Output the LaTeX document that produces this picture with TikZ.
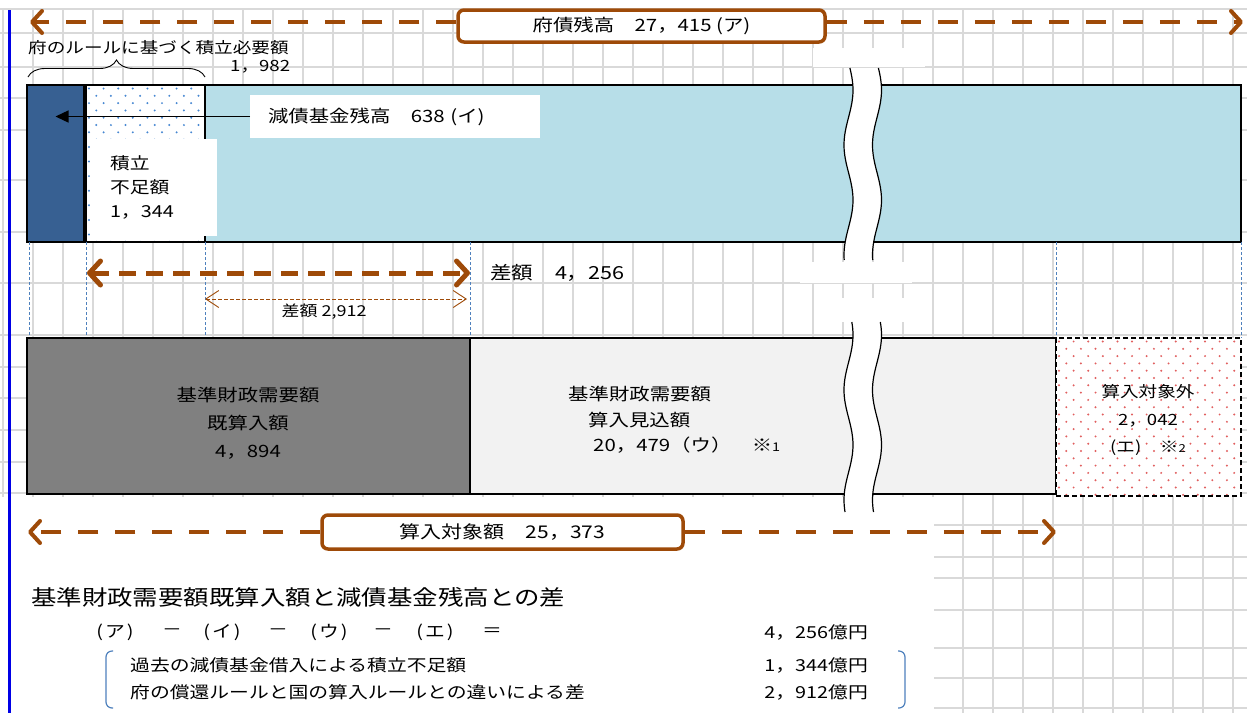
\documentclass[tikz,border=0pt]{standalone}
\usepackage{fontspec}
\setmainfont{Noto Sans CJK JP}[FakeStretch=1.2]
\usetikzlibrary{arrows.meta,decorations.pathreplacing}
\definecolor{brn}{RGB}{158,74,8}
\definecolor{gridgray}{RGB}{217,217,217}
\definecolor{funddark}{RGB}{55,96,146}
\definecolor{balancelight}{RGB}{183,222,232}
\definecolor{knowngray}{RGB}{128,128,128}
\definecolor{expectgray}{RGB}{242,242,242}
\definecolor{dotblue}{RGB}{70,135,210}
\definecolor{dotred}{RGB}{225,95,95}
\definecolor{guideblue}{RGB}{79,129,189}
\definecolor{edgeblue}{RGB}{0,0,230}
\newcommand\setfs[2]{\fontsize{#1}{#2}\selectfont}
\tikzset{
  gridline/.style={gridgray, line width=2pt},
  barbox/.style={draw=black, line width=1.2pt, inner sep=0pt, outer sep=0pt, anchor=north west},
  whitebox/.style={fill=white, inner sep=0pt, outer sep=0pt, anchor=north west},
  tagbox/.style={draw=brn, line width=3.5pt, rounded corners=6pt, fill=white, inner sep=0pt},
  longarrow/.style={brn, line width=4pt, dash pattern=on 20pt off 17pt,
    -{Straight Barb[round,length=10pt,width=22pt]}},
  gaparrow/.style={brn, line width=5pt, dash pattern=on 17pt off 10pt,
    {Straight Barb[round,length=11pt,width=24pt]}-{Straight Barb[round,length=11pt,width=24pt]}},
  thinarrow/.style={brn, line width=0.9pt, dash pattern=on 4pt off 2pt,
    {Straight Barb[length=13pt,width=17pt]}-{Straight Barb[length=13pt,width=17pt]}},
  pointer/.style={black, line width=1.3pt, -{Triangle[length=13pt,width=12pt]}},
  guide/.style={guideblue, line width=0.9pt, dash pattern=on 3pt off 2pt},
  breakline/.style={black, line width=1.2pt},
  dotfill/.style={path picture={
    \foreach \j in {0,...,22}{\foreach \i in {0,...,13}{
      \fill[#1] ([shift={({3pt+14.6pt*\i+7.3pt*mod(\j,2)},{-3.5pt-7.3pt*\j})}]path picture bounding box.north west) circle (1.1pt);}}}},
}

\begin{document}
\begin{tikzpicture}[x=1pt,y=-1pt]
    \useasboundingbox (0,0) rectangle (1247,713);
    \fill[white] (0,0) rectangle (1247,713);
    % sheet grid
    \foreach \gx in {3,33,...,1233} \draw[gridline] (\gx,9) -- (\gx,713);
    \foreach \gy in {9,33,67,98,130,180,232,283,335,367,398,430,462,493,525,557,578,610,648,678,708}
        \draw[gridline] (0,\gy) -- (1247,\gy);
    \fill[white] (0,497) rectangle (934,713);
    \draw[edgeblue, line width=2.2pt] (9.5,10) -- (9.5,713);

    % total debt
    \node[tagbox, minimum width=367pt, minimum height=32pt, font=\setfs{17}{20}] (debt) at (641.5,26) {府債残高　27，415 (ア)};
    \coordinate (debtL) at (30,22);
    \coordinate (debtR) at (1243,22);
    \draw[longarrow] (debt.west |- debtL) -- (debtL);
    \draw[longarrow] (debt.east |- debtR) -- (debtR);

    % required reserve
    \node[anchor=west, inner sep=0pt, font=\setfs{15.5}{18}] (ruletxt) at (28,48) {府のルールに基づく積立必要額};
    \node[anchor=west, inner sep=0pt, font=\setfs{15.5}{18}] (ruleval) at (230,67) {1，982};
    \draw[decorate, decoration={brace, amplitude=17pt}, line width=0.9pt] (28,77) -- (205,77);

    % upper bar
    \node[barbox, fill=funddark, minimum width=57pt, minimum height=157pt] (fund) at (27,85) {};
    \node[barbox, fill=balancelight, minimum width=1036pt, minimum height=157pt] (balance) at (205,85) {};
    \node[barbox, fill=white, dotfill=dotblue, minimum width=119pt, minimum height=157pt] (shortfall) at (86,85) {};

    \fill[white] (813,48) rectangle (925,67);
    \fill[white] (800,262) rectangle (912,283);
    \fill[white] plot[domain=68:260, samples=60] ({848.5+4.5*cos(3.2727*(\x-90))},\x)
        -- plot[domain=260:68, samples=60] ({877+4.5*cos(3.2727*(\x-90))},\x) -- cycle;
    \draw[breakline] plot[domain=68:260, samples=60] ({848.5+4.5*cos(3.2727*(\x-90))},\x);
    \draw[breakline] plot[domain=68:260, samples=60] ({877+4.5*cos(3.2727*(\x-90))},\x);

    \node[whitebox, inner xsep=18pt, text width=254pt, minimum height=43pt, align=left, font=\setfs{17}{20}] (reduce) at (250,95) {減債基金残高　638 (イ)};
    \draw[pointer] (reduce.west) -- (reduce.west -| fund.center);
    \node[whitebox, inner xsep=20pt, text width=87pt, minimum height=97pt, align=left, font=\setfs{16.5}{24}] (shorttxt) at (90,139) {積立\\不足額\\1，344};

    % guides and differences
    \foreach \gx in {29,86,205,470,1056,1241} \draw[guide] (\gx,242) -- (\gx,338);
    \coordinate (gapL) at (87,273);
    \coordinate (gapR) at (470,273);
    \draw[gaparrow] (gapL) -- (gapR);
    \node[anchor=west, inner sep=0pt, font=\setfs{18}{20}] (gaptxt) at (490,273) {差額　4，256};
    \coordinate (ruleL) at (205,299);
    \coordinate (ruleR) at (467,299);
    \draw[thinarrow] (ruleL) -- (ruleR);
    \node[inner sep=0pt, font=\setfs{15}{18}] (ruletxt2) at (324,312) {差額 2,912};

    % lower bar
    \node[barbox, fill=knowngray, minimum width=443pt, minimum height=156pt] (known) at (27,338) {};
    \node[barbox, fill=expectgray, minimum width=586pt, minimum height=156pt] (expected) at (470,338) {};
    \node[barbox, line width=1.5pt, dash pattern=on 5pt off 3pt, fill=white, dotfill=dotred, minimum width=185pt, minimum height=158pt] (excluded) at (1056,338) {};

    \fill[white] (840,298) rectangle (905,322);
    \fill[white] plot[domain=322:512, samples=60] ({848.5+4.5*cos(3.2727*(\x-335))},\x)
        -- plot[domain=512:322, samples=60] ({877+4.5*cos(3.2727*(\x-335))},\x) -- cycle;
    \draw[breakline] plot[domain=322:512, samples=60] ({848.5+4.5*cos(3.2727*(\x-335))},\x);
    \draw[breakline] plot[domain=322:512, samples=60] ({877+4.5*cos(3.2727*(\x-335))},\x);

    \node[align=center, inner sep=0pt, font=\setfs{17}{28}] (knowntxt) at (248,423) {基準財政需要額\\既算入額\\4，894};
    \node[anchor=west, align=left, inner sep=0pt, font=\setfs{17}{25.5}] (expecttxt) at (568,420)
        {基準財政需要額\\\hspace*{20pt}算入見込額\\\hspace*{25pt}20，479（ウ）　※{\setfs{12}{12}1}};
    \node[align=center, inner sep=0pt, font=\setfs{15.5}{27.5}] (excltxt) at (1148,420) {算入対象外\\2，042\\(エ)　※{\setfs{11}{11}2}};

    % amount counted
    \node[tagbox, minimum width=361pt, minimum height=34pt, font=\setfs{17.5}{20}] (target) at (502.5,532) {算入対象額　25，373};
    \coordinate (targetL) at (28,532);
    \coordinate (targetR) at (1056,532);
    \draw[longarrow] (target.west) -- (targetL);
    \draw[longarrow] (target.east) -- (targetR);

    % summary
    \node[anchor=west, inner sep=0pt, font=\setfs{21.2}{24}] (title) at (31,597) {基準財政需要額既算入額と減債基金残高との差};
    \foreach \ex/\et [count=\k] in {115/(\hspace{2pt}ア\hspace{2pt}), 172/－, 222/(\hspace{2pt}イ\hspace{2pt}), 278/－,
                                    329/(\hspace{2pt}ウ\hspace{2pt}), 383/－, 435/(\hspace{2pt}エ\hspace{2pt}), 492/＝}
        \node[inner sep=0pt, font=\setfs{16.5}{20}] (eq\k) at (\ex,632) {\et};
    \node[anchor=east, inner sep=0pt, font=\setfs{16.5}{20}] (sum) at (868,632) {4，256億円};
    \node[anchor=west, inner sep=0pt, font=\setfs{16.5}{20}] (reason1) at (130,665) {過去の減債基金借入による積立不足額};
    \node[anchor=west, inner sep=0pt, font=\setfs{16.5}{20}] (reason2) at (130,692) {府の償還ルールと国の算入ルールとの違いによる差};
    \node[anchor=east, inner sep=0pt, font=\setfs{16.5}{20}] (part1) at (868,665) {1，344億円};
    \node[anchor=east, inner sep=0pt, font=\setfs{16.5}{20}] (part2) at (868,692) {2，912億円};
    \draw[guideblue, line width=1.2pt, rounded corners=6pt] (113,651) -- (106,651) -- (106,708) -- (113,708);
    \draw[guideblue, line width=1.2pt, rounded corners=6pt] (898,651) -- (905,651) -- (905,708) -- (898,708);
\end{tikzpicture}
\end{document}
